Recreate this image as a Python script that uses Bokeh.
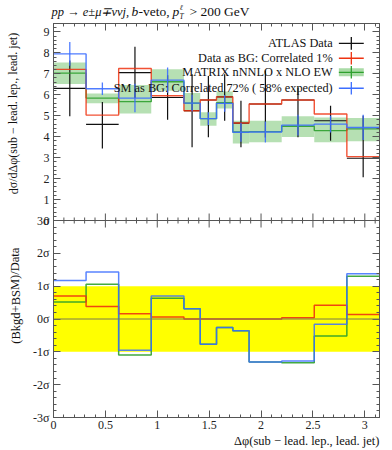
from bokeh.plotting import figure
from bokeh.layouts import column, row
from bokeh.models import Range1d, LinearAxis, FixedTicker, Label, Span, BoxAnnotation, Title
from bokeh.embed import file_html
from bokeh.resources import INLINE

# ---------------- data ----------------
edges = [0.0, 0.314, 0.628, 0.942, 1.257, 1.414, 1.571, 1.728, 1.885, 2.199, 2.513, 2.827, 3.1416]

data_val = [6.30, 4.59, 7.06, 5.87, 5.24, 5.75, 5.90, 4.65, 5.56, 5.75, 4.76, 2.97]
data_lo = [4.97, 3.44, 5.84, 4.81, 3.49, 3.97, 4.76, 3.49, 3.96, 3.97, 3.81, 2.06]
data_hi = [7.63, 5.66, 8.29, 6.93, 6.98, 6.90, 6.98, 5.71, 7.16, 6.35, 5.48, 5.00]

red_val = [7.21, 5.03, 7.25, 5.95, 5.24, 5.75, 5.90, 4.65, 5.56, 5.75, 5.08, 3.05]

green_val = [7.03, 5.84, 5.67, 6.62, 5.60, 4.86, 5.62, 4.22, 4.24, 4.50, 4.29, 4.37]
green_lo = [6.51, 5.59, 5.11, 6.19, 5.20, 4.52, 5.35, 3.68, 3.73, 3.98, 3.73, 3.78]
green_hi = [7.54, 6.06, 6.46, 7.22, 6.08, 5.16, 6.16, 4.76, 4.76, 4.98, 4.92, 4.89]

blue_val = [7.95, 6.29, 5.84, 6.70, 5.60, 4.86, 5.59, 4.21, 4.22, 4.55, 4.60, 4.44]
blue_err = [0.57, 0.30, 0.68, 0.60, 0.40, 0.30, 0.40, 0.45, 0.50, 0.50, 0.40, 0.60]

dev_red = [0.70, 0.38, 0.16, 0.06, 0.0, 0.0, 0.0, 0.0, 0.0, 0.04, 0.42, 0.14]
dev_green = [0.52, 1.06, -1.10, 0.63, 0.31, -0.77, -0.26, -0.36, -1.31, -1.33, -0.52, 1.30]
dev_blue = [1.17, 1.43, -0.95, 0.70, 0.31, -0.77, -0.26, -0.36, -1.31, -1.28, -0.16, 1.38]

x_major = [0, 0.5, 1, 1.5, 2, 2.5, 3]
upper_y_major = [0, 1, 2, 3, 4, 5, 6, 7, 8, 9]
lower_y_major = [-3, -2, -1, 0, 1, 2, 3]
lower_y_labels = ["-3σ", "-2σ", "-1σ", "0σ", "1σ", "2σ", "3σ"]

legend_labels = ["ATLAS Data", "Data as BG: Correlated 1%",
                 "MATRIX nNNLO x NLO EW", "SM as BG: Correlated 72% ( 58% expected)"]
upper_ylabel = "dσ/dΔφ(sub − lead. lep., lead. jet)"
lower_ylabel = "(Bkgd+BSM)/Data"
xlabel = "Δφ(sub − lead. lep., lead. jet)"

BLACK = "#111111"
RED = "#EE3311"
GREEN = "#2EA02E"
BAND = "#A9DBA6"
BLUE = "#3C6EFF"
AXC = "#555555"
FONT = "Liberation Serif"

UP_TOP = 9.4            # upper panel: 0 .. 9.4
LOW_LO, LOW_HI = -3, 3  # lower panel: -3 .. 3 sigma
K = UP_TOP / (LOW_HI - LOW_LO)  # placement of sigma ticks on the shared axis

FRAME_H = 394
MAIN_H = 2 + FRAME_H + 31
TITLE_H = 21

lefts = edges[:-1]
rights = edges[1:]
centers = [(a + b) / 2 for a, b in zip(lefts, rights)]


def ext(v):
    return list(v) + [v[-1]]


def frange(lo, hi, step):
    n = int(round((hi - lo) / step))
    return [round(lo + i * step, 4) for i in range(n + 1)]


def not_in(vals, major):
    return [t for t in vals if all(abs(t - m) > 1e-6 for m in major)]


x_minor = not_in(frange(0, 3.1, 0.1), x_major)

sig_pos = {s: round((s - LOW_HI) * K, 4) for s in lower_y_major}
y_ticks = list(upper_y_major) + [sig_pos[s] for s in lower_y_major if s != LOW_HI] + [-1e-6]
y_over = {t: str(t) for t in upper_y_major}
for s, lab in zip(lower_y_major, lower_y_labels):
    if s != LOW_HI:
        y_over[sig_pos[s]] = lab
y_over[-1e-6] = lower_y_labels[-1]
up_minor = not_in(frange(0, 9.4, 0.2), upper_y_major)
low_minor = [round((s - LOW_HI) * K, 4) for s in not_in(frange(LOW_LO, LOW_HI, 0.2), lower_y_major)]
y_minor = up_minor + low_minor


def style_axis(ax, major, minor, labels=True, overrides=None, size="12px"):
    ax.ticker = FixedTicker(ticks=major, minor_ticks=minor)
    ax.major_tick_in = 7
    ax.major_tick_out = 0
    ax.minor_tick_in = 3
    ax.minor_tick_out = 0
    ax.axis_line_color = AXC
    ax.major_tick_line_color = AXC
    ax.minor_tick_line_color = AXC
    ax.major_label_text_font = FONT
    ax.major_label_text_font_size = size
    ax.major_label_text_color = "#222222"
    if overrides:
        ax.major_label_overrides = overrides
    if not labels:
        ax.major_label_text_font_size = "0px"
        ax.major_label_standoff = 0
        ax.major_label_text_color = None


# ---------------- main figure (both panels) ----------------
p = figure(width=354, height=MAIN_H, x_range=Range1d(0, 3.1416), y_range=Range1d(-UP_TOP, UP_TOP),
           output_backend="svg", toolbar_location=None,
           min_border_left=22, min_border_right=5, min_border_top=2, min_border_bottom=31)
p.extra_y_ranges = {"low": Range1d(LOW_LO, LOW_HI + (LOW_HI - LOW_LO))}
p.grid.visible = False
p.outline_line_color = AXC

style_axis(p.xaxis[0], x_major, x_minor)
p.xaxis[0].major_label_standoff = 3
style_axis(p.yaxis[0], y_ticks, y_minor, overrides=y_over)
p.yaxis[0].major_label_standoff = 4
top_ax = LinearAxis()
style_axis(top_ax, x_major, x_minor, labels=False)
p.add_layout(top_ax, "above")
right_ax = LinearAxis()
style_axis(right_ax, y_ticks, y_minor, labels=False)
p.add_layout(right_ax, "right")
p.add_layout(Title(text=xlabel, align="right", text_font=FONT, text_font_size="12.5px",
                   text_font_style="normal", text_color="#111111", standoff=0), "below")

# lower panel background band and zero line
p.add_layout(BoxAnnotation(bottom=-1, top=1, y_range_name="low", fill_color="#FFFF00",
                           fill_alpha=1.0, line_color=None, level="underlay"))
p.add_layout(Span(location=0, dimension="width", y_range_name="low",
                  line_color="#7A7A50", line_width=1))

# divider between the panels with ticks on both sides
p.add_layout(Span(location=0, dimension="width", line_color=AXC, line_width=1))
tick_len_major = 7 * 2 * UP_TOP / FRAME_H
tick_len_minor = 3 * 2 * UP_TOP / FRAME_H
p.segment(x0=x_major, x1=x_major, y0=[-tick_len_major] * len(x_major),
          y1=[tick_len_major] * len(x_major), line_color=AXC, line_width=1)
p.segment(x0=x_minor, x1=x_minor, y0=[-tick_len_minor] * len(x_minor),
          y1=[tick_len_minor] * len(x_minor), line_color=AXC, line_width=1)

# upper panel: band, data, predictions
p.quad(left=lefts, right=rights, bottom=green_lo, top=green_hi,
       fill_color=BAND, fill_alpha=0.85, line_color=None)
p.segment(x0=lefts, x1=rights, y0=data_val, y1=data_val, line_color=BLACK, line_width=1.2)
p.segment(x0=centers, x1=centers, y0=data_lo, y1=data_hi, line_color=BLACK, line_width=1.2)
p.step(x=edges, y=ext(green_val), mode="after", line_color=GREEN, line_width=1.4, line_alpha=0.9)
p.step(x=edges, y=ext(red_val), mode="after", line_color=RED, line_width=1.4, line_alpha=0.85)
p.step(x=edges, y=ext(blue_val), mode="after", line_color=BLUE, line_width=1.4, line_alpha=0.9)
p.segment(x0=centers, x1=centers,
          y0=[v - e for v, e in zip(blue_val, blue_err)],
          y1=[v + e for v, e in zip(blue_val, blue_err)],
          line_color=BLUE, line_width=1.3, line_alpha=0.9)

# lower panel: significance steps
p.step(x=edges, y=ext(dev_green), mode="after", y_range_name="low",
       line_color=GREEN, line_width=1.5, line_alpha=0.9)
p.step(x=edges, y=ext(dev_red), mode="after", y_range_name="low",
       line_color=RED, line_width=1.5, line_alpha=0.9)
p.step(x=edges, y=ext(dev_blue), mode="after", y_range_name="low",
       line_color=BLUE, line_width=1.5, line_alpha=0.85)

# legend
leg_y = [8.45, 7.74, 7.07, 6.31]
leg_cols = [BLACK, RED, GREEN, BLUE]
for lab, yy, col in zip(legend_labels, leg_y, leg_cols):
    p.add_layout(Label(x=2.69, y=yy, text=lab, text_align="right", text_baseline="middle",
                       text_font=FONT, text_font_size="12.3px", text_color="#111111"))
    if col == GREEN:
        p.quad(left=[2.75], right=[2.99], bottom=[yy - 0.19], top=[yy + 0.19],
               fill_color=BAND, line_color=None)
    p.segment(x0=[2.75], x1=[2.99], y0=[yy], y1=[yy], line_color=col, line_width=1.4)
    p.segment(x0=[2.87], x1=[2.87], y0=[yy - 0.3], y1=[yy + 0.3], line_color=col, line_width=1.3)

# ---------------- y-axis titles strip ----------------
ylab = figure(width=30, height=MAIN_H, x_range=Range1d(0, 30), y_range=Range1d(0, MAIN_H),
              output_backend="svg", toolbar_location=None, x_axis_type=None, y_axis_type=None,
              min_border_left=0, min_border_right=0, min_border_top=0, min_border_bottom=0)
ylab.grid.visible = False
ylab.outline_line_color = None
ylab.add_layout(Label(x=13, y=MAIN_H + TITLE_H - 206, text=upper_ylabel, angle=1.5708,
                      text_align="left", text_baseline="middle", text_font=FONT,
                      text_font_size="12px", text_color="#111111"))
ylab.add_layout(Label(x=15, y=MAIN_H + TITLE_H - 316, text=lower_ylabel, angle=1.5708,
                      text_align="center", text_baseline="middle", text_font=FONT,
                      text_font_size="12.5px", text_color="#111111"))

# ---------------- title strip ----------------
tfig = figure(width=384, height=TITLE_H, x_range=Range1d(0, 384), y_range=Range1d(0, TITLE_H),
              output_backend="svg", toolbar_location=None, x_axis_type=None, y_axis_type=None,
              min_border_left=0, min_border_right=0, min_border_top=0, min_border_bottom=0)
tfig.grid.visible = False
tfig.outline_line_color = None
tkw = dict(y=10, text_baseline="middle", text_font=FONT, text_font_size="13.5px", text_color="#111111")
skw = dict(text_baseline="middle", text_font=FONT, text_font_size="7.5px",
           text_font_style="italic", text_color="#111111")
tfig.add_layout(Label(x=51, text="pp → e±μ∓ννj,", text_font_size="12.5px",
                      text_font_style="italic", y=10, text_baseline="middle", text_font=FONT,
                      text_color="#111111"))
tfig.add_layout(Label(x=131, text="b", text_font_style="italic", **tkw))
tfig.add_layout(Label(x=138, text="-veto,", **tkw))
tfig.add_layout(Label(x=172, text="p", text_font_style="italic", **tkw))
tfig.add_layout(Label(x=179, y=14.5, text="ℓ", **skw))
tfig.add_layout(Label(x=179, y=5.5, text="T", **skw))
tfig.add_layout(Label(x=189, text="> 200 GeV", **tkw))

layout = column(tfig, row(ylab, p, spacing=0), spacing=0)
open("out.html", "w").write(file_html(layout, INLINE))
